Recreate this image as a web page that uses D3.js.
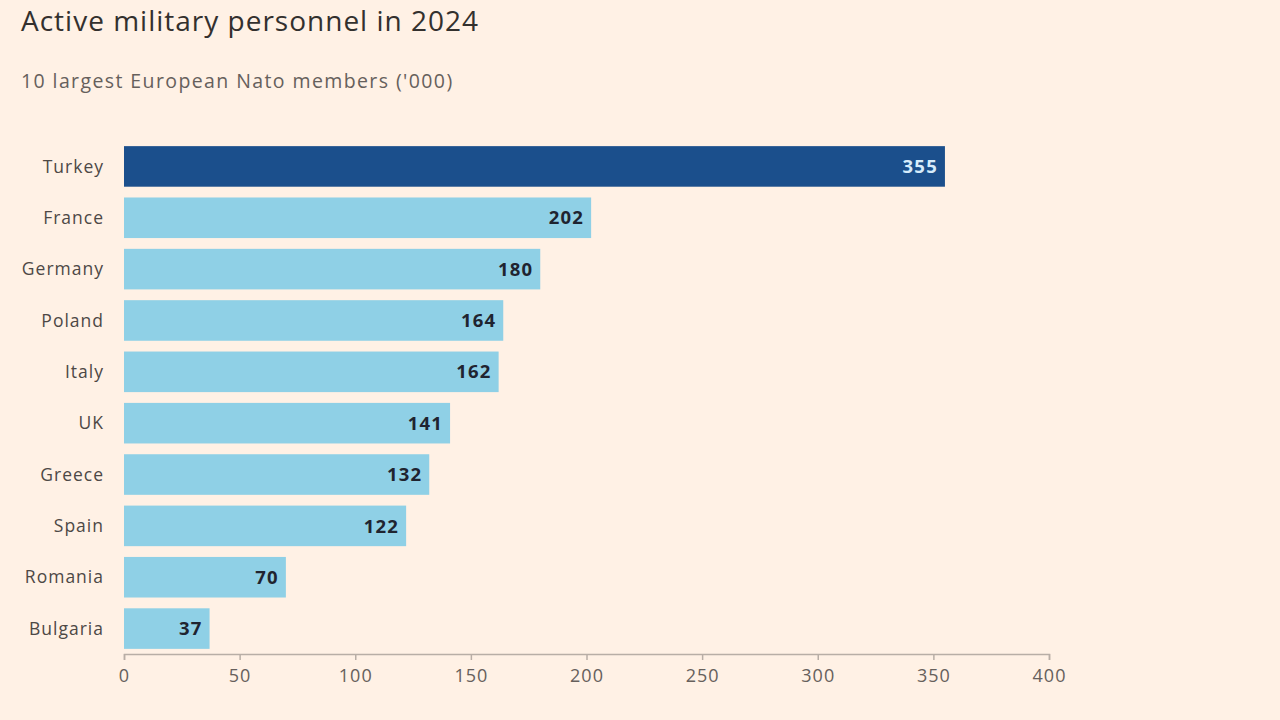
<!DOCTYPE html>
<html>
<head>
<meta charset="utf-8">
<script src="https://cdn.jsdelivr.net/npm/d3@7"></script>
<style>
  body { margin: 0; background: #fff1e5; }
  text { font-family: "Open Sans", Lato, sans-serif; }
</style>
</head>
<body>
<div id="vis"></div>
<script>
var w = 1280;
var h = 720;

// data
var countries = ["Turkey", "France", "Germany", "Poland", "Italy", "UK", "Greece", "Spain", "Romania", "Bulgaria"];
var personnel = [355, 202, 180, 164, 162, 141, 132, 122, 70, 37];
var highlight = ["Turkey"];
var xTicks = [0, 50, 100, 150, 200, 250, 300, 350, 400];

var svg = d3.select("#vis").append("svg").attr("width", w).attr("height", h);

svg.append("rect").attr("width", w).attr("height", h).attr("fill", "#fff1e5");

svg.append("text")
  .attr("x", 21).attr("y", 31)
  .attr("font-size", 28)
  .attr("letter-spacing", 1)
  .attr("fill", "#33302e")
  .text("Active military personnel in 2024");

svg.append("text")
  .attr("x", 21).attr("y", 88)
  .attr("font-size", 19.5)
  .attr("letter-spacing", 1.4)
  .attr("fill", "#66605c")
  .text("10 largest European Nato members ('000)");

var x = d3.scaleLinear().domain([0, 400]).range([124, 1049]);
var y = d3.scaleBand().domain(countries).range([141, 654]).paddingInner(0.21).paddingOuter(0.1);

var rows = countries.map(function (c, i) { return { name: c, value: personnel[i] }; });

svg.selectAll("rect.bar")
  .data(rows)
  .enter()
  .append("rect")
  .attr("class", "bar")
  .attr("x", x(0))
  .attr("y", function (d) { return y(d.name); })
  .attr("width", function (d) { return x(d.value) - x(0); })
  .attr("height", y.bandwidth())
  .attr("fill", function (d) { return highlight.indexOf(d.name) >= 0 ? "#1b4f8c" : "#8fd0e6"; });

svg.selectAll("text.val")
  .data(rows)
  .enter()
  .append("text")
  .attr("class", "val")
  .attr("x", function (d) { return x(d.value) - 7; })
  .attr("y", function (d) { return y(d.name) + y.bandwidth() / 2; })
  .attr("dy", "0.36em")
  .attr("text-anchor", "end")
  .attr("font-size", 18.5)
  .attr("letter-spacing", 1.2)
  .attr("font-weight", "bold")
  .attr("fill", function (d) { return highlight.indexOf(d.name) >= 0 ? "#d6ecfb" : "#1f2430"; })
  .text(function (d) { return d.value; });

svg.selectAll("text.cat")
  .data(rows)
  .enter()
  .append("text")
  .attr("class", "cat")
  .attr("x", 104)
  .attr("y", function (d) { return y(d.name) + y.bandwidth() / 2; })
  .attr("dy", "0.35em")
  .attr("text-anchor", "end")
  .attr("font-size", 17.5)
  .attr("letter-spacing", 1)
  .attr("fill", "#4d4845")
  .text(function (d) { return d.name; });

var axis = svg.append("g")
  .attr("transform", "translate(0,654)")
  .call(d3.axisBottom(x).tickValues(xTicks).tickSize(6).tickPadding(9));

axis.select(".domain").attr("stroke", "#b8aea6").attr("stroke-width", 1.5);
axis.selectAll(".tick line").attr("stroke", "#b8aea6").attr("stroke-width", 1.5);
axis.selectAll(".tick text")
  .attr("font-size", 18)
  .attr("letter-spacing", 1)
  .attr("fill", "#66605c")
  .style("font-family", "'Open Sans', Lato, sans-serif");
</script>
</body>
</html>
